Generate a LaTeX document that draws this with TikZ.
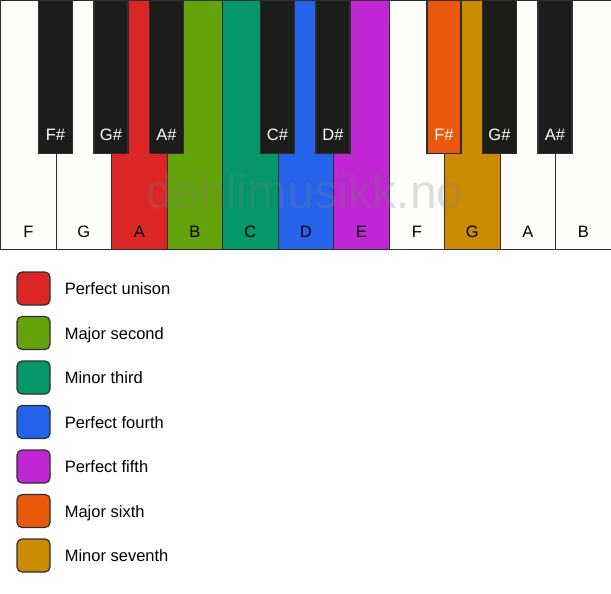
\documentclass[tikz,border=0pt]{standalone}
\usepackage{fontspec}
\setmainfont{Liberation Sans}
\usetikzlibrary{positioning}

\definecolor{keyline}{HTML}{2E2E2E}
\definecolor{ivory}{HTML}{FFFDF9}
\definecolor{ebony}{HTML}{1C1C1B}
\definecolor{unison}{HTML}{DC2626}
\definecolor{second}{HTML}{65A30D}
\definecolor{third}{HTML}{059669}
\definecolor{fourth}{HTML}{2563EB}
\definecolor{fifth}{HTML}{C026D3}
\definecolor{sixth}{HTML}{EA580C}
\definecolor{seventh}{HTML}{CA8A04}

\begin{document}
\begin{tikzpicture}[
x=1pt,y=-1pt,
font=\fontsize{16.5}{18}\selectfont,
whitekey/.style={rectangle,draw=keyline,line width=1.2pt,anchor=north west,minimum width=55.5pt,minimum height=249pt,inner sep=0pt},
blackkey/.style={rectangle,draw=keyline,line width=1.2pt,anchor=north,minimum width=34pt,minimum height=153pt,inner sep=0pt},
keylabel/.style={inner sep=0pt,text=black,text height=12pt,text depth=0pt},
blacklabel/.style={inner sep=0pt,text=white,text height=12pt,text depth=0pt},
swatch/.style={rectangle,rounded corners=5pt,draw=keyline,line width=1.2pt,minimum size=33pt,inner sep=0pt},
legendtext/.style={inner sep=0pt,anchor=west,text height=12pt,text depth=0pt},
watermark/.style={inner sep=0pt,anchor=base,text=gray,opacity=0.25,font=\fontsize{48}{48}\selectfont},
]

\useasboundingbox (0,0) rectangle (611,594);

% Draw white keys
\foreach \name/\col [count=\i from 0] in {F/ivory,G/ivory,A/unison,B/second,C/third,D/fourth,E/fifth,F/ivory,G/seventh,A/ivory,B/ivory}{
  \node [whitekey,fill=\col] (w\i) at (55.5*\i,0) {};
  \node [keylabel] (lw\i) at ([yshift=19pt]w\i.south) {\name};
}

% Watermark
\node [watermark] (wm) at (305,208) {dehlimusikk.no};

% Draw black keys
\foreach \b/\name/\col in {1/F/ebony,2/G/ebony,3/A/ebony,5/C/ebony,6/D/ebony,8/F/sixth,9/G/ebony,10/A/ebony}{
  \node [blackkey,fill=\col] (b\b) at (55.5*\b,0) {};
  \node [blacklabel] (lb\b) at ([yshift=20pt]b\b.south) {\name\#};
}

% Legend
\foreach \col/\text [count=\j from 0] in {unison/Perfect unison,second/Major second,third/Minor third,fourth/Perfect fourth,fifth/Perfect fifth,sixth/Major sixth,seventh/Minor seventh}{
  \node [swatch,fill=\col] (c\j) at (33.5,288.5+44.5*\j) {};
  \node [legendtext,right=14pt of c\j] (t\j) {\text};
}
\end{tikzpicture}
\end{document}
